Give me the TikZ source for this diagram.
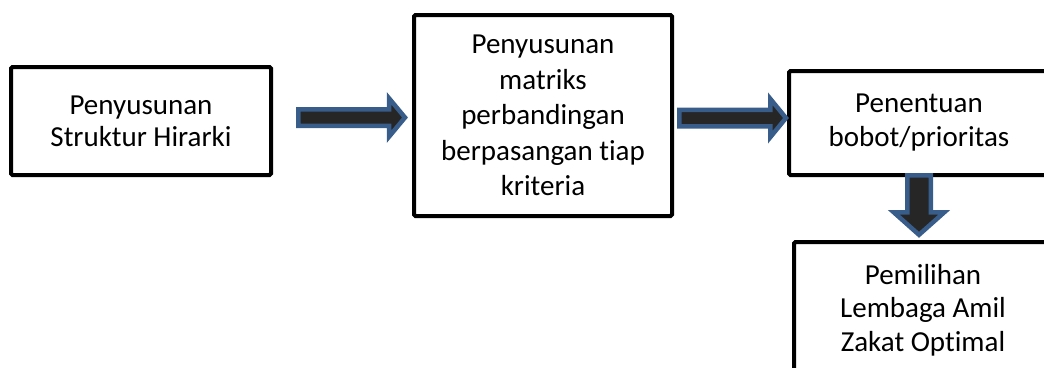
\documentclass[tikz,border=0pt]{standalone}
\usepackage{fontspec}
\setmainfont[Ligatures=NoCommon]{Carlito}
\usetikzlibrary{calc}
\definecolor{arrowblue}{RGB}{56,93,138}
\definecolor{arrowdark}{RGB}{38,38,38}
\tikzset{
 box/.style={draw, line width=4pt, rounded corners=1.5pt, align=center, inner sep=0pt},
 fat/.style={draw=arrowblue, fill=arrowdark, line width=4.5pt, line join=miter},
 fat right/.style n args={3}{to path={let \p1=(\tikztostart), \p2=(\tikztotarget) in
  (\x1,{\y1+#1}) -- ({\x2-#3},{\y1+#1}) -- ({\x2-#3},{\y1+#2}) -- (\x2,\y1)
  -- ({\x2-#3},{\y1-#2}) -- ({\x2-#3},{\y1-#1}) -- (\x1,{\y1-#1}) -- cycle}},
 fat down/.style n args={3}{to path={let \p1=(\tikztostart), \p2=(\tikztotarget) in
  ({\x1+#1},\y1) -- ({\x1+#1},{\y2+#3}) -- ({\x1+#2},{\y2+#3}) -- (\x1,\y2)
  -- ({\x1-#2},{\y2+#3}) -- ({\x1-#1},{\y2+#3}) -- ({\x1-#1},\y1) -- cycle}},
}
\begin{document}
\begin{tikzpicture}[x=1pt, y=-1pt]
\useasboundingbox (0,0) rectangle (1044,367);
\clip (0,0) rectangle (1044,367);
\node[box, minimum width=260pt, minimum height=108pt, font=\fontsize{29}{32}\selectfont] (struktur) at (141,121) {Penyusunan\\Struktur Hirarki};
\node[box, minimum width=258pt, minimum height=201pt, font=\fontsize{29}{35.5}\selectfont] (matriks) at (543,115.5) {Penyusunan\\matriks\\perbandingan\\berpasangan tiap\\kriteria};
\node[box, minimum width=260pt, minimum height=104pt, font=\fontsize{29}{34}\selectfont] (penentuan) at (919,123) {Penentuan\\bobot/prioritas};
\node[box, minimum width=258pt, minimum height=136pt, font=\fontsize{29}{33.3}\selectfont] (pemilihan) at (923,310) {Pemilihan\\Lembaga Amil\\Zakat Optimal};
% arrows between the steps
\draw[fat] ([xshift=25.25pt, yshift=3.5pt]struktur.east) to[fat right={8.25pt}{19.25pt}{16pt}] ([xshift=-7pt]matriks.west);
\draw[fat] ([xshift=5.25pt, yshift=-2.5pt]matriks.east) to[fat right={8.25pt}{19.25pt}{15.75pt}] ([xshift=-1pt]penentuan.west);
\draw[fat] ([yshift=1.75pt]penentuan.south) to[fat down={11.75pt}{25.25pt}{22.5pt}] ([yshift=5.2pt]pemilihan.north);
\end{tikzpicture}
\end{document}
